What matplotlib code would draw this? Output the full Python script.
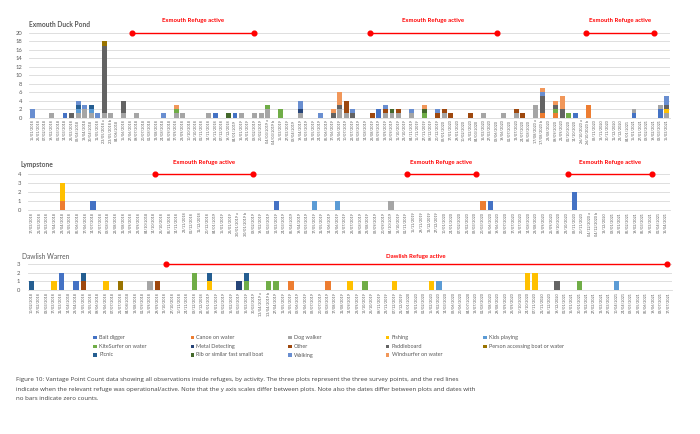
import matplotlib
matplotlib.use("Agg")
import matplotlib.pyplot as plt
import numpy as np

plt.rcParams['font.family'] = ['Lato', 'DejaVu Sans']

activities = ["Bait digger", "Canoe on water", "Dog walker", "Fishing", "Kids playing",
              "KiteSurfer on water", "Metal Detecting", "Other", "Paddleboard",
              "Person accessing boat or water", "Picnic", "Rib or similar fast small boat",
              "Walking", "Windsurfer on water"]
colors = ["#4472C4", "#ED7D31", "#A5A5A5", "#FFC000", "#5B9BD5", "#70AD47", "#264478",
          "#9E480E", "#636363", "#997300", "#255E91", "#43682B", "#698ED0", "#F1975A"]

# ---------------- Exmouth Duck Pond ----------------
duck_dates = [
    "15/01/2018", "26/01/2018", "07/02/2018", "19/02/2018", "02/03/2018", "14/03/2018", "26/03/2018", "06/04/2018", "18/04/2018", "30/04/2018",
    "11/05/2018", "23/05/2018 a", "23/05/2018 b", "04/06/2018", "15/06/2018", "27/06/2018", "09/07/2018", "20/07/2018", "01/08/2018", "13/08/2018",
    "24/08/2018", "05/09/2018", "17/09/2018", "28/09/2018", "10/10/2018", "22/10/2018", "02/11/2018", "14/11/2018", "26/11/2018", "07/12/2018",
    "19/12/2018", "04/01/2019", "16/01/2019", "28/01/2019", "08/02/2019", "20/02/2019", "04/03/2019 a", "04/03/2019 b", "15/03/2019", "27/03/2019",
    "08/04/2019", "19/04/2019", "01/05/2019", "13/05/2019", "24/05/2019", "05/06/2019", "17/06/2019", "28/06/2019", "10/07/2019", "22/07/2019",
    "02/08/2019", "14/08/2019", "26/08/2019", "06/09/2019", "18/09/2019", "30/09/2019", "11/10/2019", "23/10/2019", "04/11/2019", "15/11/2019",
    "27/11/2019", "09/12/2019", "20/12/2019", "06/01/2020", "17/01/2020", "29/01/2020", "10/02/2020", "21/02/2020", "04/03/2020", "16/03/2020",
    "27/03/2020", "08/06/2020", "19/06/2020", "01/07/2020", "13/07/2020", "24/07/2020", "05/08/2020", "17/08/2020 a", "17/08/2020 b", "28/08/2020",
    "09/09/2020", "21/09/2020", "02/10/2020", "14/10/2020", "26/10/2020 a", "26/10/2020 b", "06/11/2020", "18/11/2020", "30/11/2020", "11/12/2020",
    "23/12/2020", "04/01/2021", "15/01/2021", "27/01/2021", "08/02/2021", "19/02/2021", "03/03/2021", "15/03/2021",
]
duck_counts = {
    "Bait digger": {5: 1, 28: 1, 31: 1, 53: 2, 83: 1, 92: 1, 96: 2},
    "Canoe on water": {78: 1, 80: 1, 85: 3},
    "Dog walker": {3: 1, 7: 1, 8: 2, 9: 1, 11: 1, 12: 1, 14: 1, 16: 1, 22: 1, 23: 1, 27: 1, 32: 1,
                   34: 1, 35: 1, 36: 2, 41: 1, 47: 2, 48: 1, 54: 1, 55: 1, 56: 1, 58: 1, 63: 1,
                   69: 1, 72: 1, 74: 1, 77: 3, 92: 1, 96: 1, 97: 1},
    "Fishing": {97: 1},
    "Kids playing": {7: 1, 9: 1},
    "KiteSurfer on water": {22: 1, 36: 1, 38: 2, 60: 1, 80: 1, 82: 1},
    "Metal Detecting": {41: 1},
    "Other": {48: 3, 52: 1, 54: 1, 56: 1, 62: 1, 63: 1, 64: 1, 67: 1, 74: 1, 75: 1},
    "Paddleboard": {6: 1, 11: 16, 14: 3, 46: 1, 47: 1, 49: 1, 78: 4, 80: 1, 81: 2, 97: 1},
    "Person accessing boat or water": {11: 1},
    "Picnic": {7: 1, 9: 1},
    "Rib or similar fast small boat": {30: 1, 55: 1, 60: 1},
    "Walking": {0: 2, 7: 1, 8: 1, 10: 1, 20: 1, 41: 2, 44: 1, 49: 1, 54: 1, 58: 1, 62: 1, 78: 1, 97: 2},
    "Windsurfer on water": {22: 1, 46: 1, 47: 3, 60: 1, 78: 1, 80: 1, 81: 3},
}
duck_refuge = [(15.3, 33.9), (51.7, 71.0), (84.7, 95.0)]

# ---------------- Lympstone ----------------
lymp_dates = [
    "17/03/2018", "21/03/2018", "25/03/2018", "18/04/2018", "23/04/2018", "25/05/2018", "05/06/2018", "17/06/2018", "14/07/2018", "27/07/2018",
    "08/08/2018", "22/08/2018", "31/08/2018", "12/09/2018", "23/09/2018", "04/10/2018", "14/10/2018", "26/10/2018", "05/11/2018", "14/11/2018",
    "23/11/2018", "02/12/2018", "11/12/2018", "20/12/2018", "04/01/2019", "15/01/2019", "26/01/2019", "30/01/2019 a", "30/01/2019 b", "08/02/2019",
    "19/02/2019", "01/03/2019", "12/03/2019", "24/03/2019", "05/04/2019", "19/04/2019", "02/05/2019", "17/05/2019", "31/05/2019", "14/06/2019",
    "28/06/2019", "12/07/2019", "26/07/2019", "09/08/2019", "23/08/2019", "06/09/2019", "20/09/2019", "04/10/2019", "18/10/2019", "01/11/2019",
    "15/11/2019", "29/11/2019", "13/12/2019", "27/12/2019", "10/01/2020", "24/01/2020", "07/02/2020", "21/02/2020", "06/03/2020", "20/03/2020",
    "05/06/2020", "19/06/2020", "03/07/2020", "17/07/2020", "31/07/2020", "14/08/2020", "28/08/2020", "11/09/2020", "25/09/2020", "09/10/2020",
    "23/10/2020", "06/11/2020", "20/11/2020", "04/12/2020 a", "04/12/2020 b", "18/12/2020", "08/01/2021", "22/01/2021", "05/02/2021", "19/02/2021",
    "05/03/2021", "19/03/2021", "02/04/2021", "16/04/2021",
]
lymp_counts = {
    "Bait digger": {8: 1, 32: 1, 60: 1, 71: 2},
    "Canoe on water": {4: 1, 59: 1},
    "Dog walker": {47: 1},
    "Fishing": {4: 2},
    "Kids playing": {37: 1, 40: 1},
}
lymp_refuge = [(16.1, 29.0), (49.1, 58.1), (70.1, 81.2)]

# ---------------- Dawlish Warren ----------------
daw_dates = [
    "10/02/2018", "17/02/2018", "03/03/2018", "17/03/2018", "31/03/2018", "14/04/2018", "28/04/2018", "12/05/2018", "26/05/2018", "09/06/2018",
    "23/06/2018", "07/07/2018", "21/07/2018", "04/08/2018", "18/08/2018", "01/09/2018", "15/09/2018", "29/09/2018", "13/10/2018", "27/10/2018",
    "10/11/2018", "24/11/2018", "08/12/2018", "22/12/2018", "05/01/2019", "19/01/2019", "02/02/2019", "16/02/2019", "02/03/2019", "16/03/2019",
    "30/03/2019", "13/04/2019 a", "13/04/2019 b", "27/04/2019", "11/05/2019", "25/05/2019", "08/06/2019", "22/06/2019", "06/07/2019", "20/07/2019",
    "03/08/2019", "17/08/2019", "31/08/2019", "14/09/2019", "28/09/2019", "12/10/2019", "26/10/2019", "09/11/2019", "23/11/2019", "07/12/2019",
    "21/12/2019", "04/01/2020", "18/01/2020", "01/02/2020", "15/02/2020", "29/02/2020", "14/03/2020", "06/06/2020", "20/06/2020", "04/07/2020",
    "18/07/2020", "01/08/2020", "15/08/2020", "29/08/2020", "12/09/2020", "26/09/2020", "10/10/2020", "24/10/2020", "07/11/2020", "21/11/2020",
    "05/12/2020", "19/12/2020", "02/01/2021", "16/01/2021", "30/01/2021", "13/02/2021", "27/02/2021", "13/03/2021", "27/03/2021", "10/04/2021",
    "24/04/2021", "08/05/2021", "22/05/2021", "05/06/2021", "19/06/2021", "03/07/2021", "17/07/2021",
]
daw_counts = {
    "Bait digger": {4: 2, 6: 1},
    "Canoe on water": {35: 1, 40: 1},
    "Dog walker": {16: 1},
    "Fishing": {3: 1, 10: 1, 24: 1, 43: 1, 49: 1, 54: 1, 67: 2, 68: 2},
    "Kids playing": {55: 1, 79: 1},
    "KiteSurfer on water": {22: 2, 29: 1, 32: 1, 33: 1, 45: 1, 74: 1},
    "Metal Detecting": {28: 1},
    "Other": {7: 1, 17: 1},
    "Paddleboard": {71: 1},
    "Person accessing boat or water": {12: 1},
    "Picnic": {0: 1, 7: 1, 24: 1, 29: 1},
}
daw_refuge = [(18.1, 85.8)]

caption_lines = [
    "Figure 10: Vantage Point Count data showing all observations inside refuges, by activity. The three plots represent the three survey points, and the red lines",
    "indicate when the relevant refuge was operational/active. Note that the y axis scales differ between plots. Note also the dates differ between plots and dates with",
    "no bars indicate zero counts.",
]

TXT = "#595959"
GRID = "#D9D9D9"
W, H = 700, 434

fig = plt.figure(figsize=(7, 4.34), dpi=100)


def px_axes(x0, x1, ytop, ybot):
    return fig.add_axes([x0 / W, 1 - ybot / H, (x1 - x0) / W, (ybot - ytop) / H])


def draw(ax, dates, counts, ymax, ystep, refuge, label, label_off, ypad):
    n = len(dates)
    x = np.arange(n)
    bottom = np.zeros(n)
    for act, col in zip(activities, colors):
        vals = np.zeros(n)
        for i, v in counts.get(act, {}).items():
            vals[i] = v
        if vals.any():
            ax.bar(x, vals, 0.75, bottom=bottom, color=col, linewidth=0, zorder=3)
        bottom += vals
    ax.set_xlim(-0.5, n - 0.5)
    ax.set_ylim(0, ymax)
    ax.set_yticks(np.arange(0, ymax + 0.01, ystep))
    ax.yaxis.grid(True, color=GRID, lw=0.6, zorder=0)
    ax.set_axisbelow(True)
    ax.set_xticks(x)
    ax.set_xticklabels(dates, rotation=90, fontsize=2.7, color=TXT)
    for s in ["top", "right", "left"]:
        ax.spines[s].set_visible(False)
    ax.spines["bottom"].set_color(GRID)
    ax.spines["bottom"].set_linewidth(0.6)
    ax.tick_params(axis="x", length=0, pad=1.5)
    ax.tick_params(axis="y", length=0, labelsize=4.2, labelcolor=TXT, pad=ypad)
    for a, b in refuge:
        ax.plot([a, b], [ymax, ymax], color="#FF0000", lw=1.0, marker="o", ms=3.4,
                clip_on=False, zorder=6)
        ax.annotate(label, xy=((a + b) / 2, ymax), xytext=(0, label_off),
                    textcoords="offset points", ha="center", va="center",
                    color="#FF0000", fontsize=4.3, fontweight="bold",
                    annotation_clip=False)


ax1 = px_axes(29, 670, 33, 117.5)
draw(ax1, duck_dates, duck_counts, 20, 2, duck_refuge, "Exmouth Refuge active", 9.3, 5)
ax2 = px_axes(28, 670, 174, 209.7)
draw(ax2, lymp_dates, lymp_counts, 4, 1, lymp_refuge, "Exmouth Refuge active", 8.1, 5)
ax3 = px_axes(28, 672, 264, 290)
draw(ax3, daw_dates, daw_counts, 3, 1, daw_refuge, "Dawlish Refuge active", 5.3, 5.5)

fig.text(29 / W, 1 - 24.5 / H, "Exmouth Duck Pond", fontsize=4.8, fontweight="bold",
         color=TXT, ha="left", va="center")
fig.text(20.5 / W, 1 - 164.7 / H, "Lympstone", fontsize=4.8, fontweight="bold",
         color=TXT, ha="left", va="center")
fig.text(22.5 / W, 1 - 256.7 / H, "Dawlish Warren", fontsize=4.8,
         color=TXT, ha="left", va="center")

# legend, laid out row by row in 5 columns
col_x = [95, 192.5, 290, 387.5, 485]
row_y = [337.5, 346.2, 355]
for k, (act, col) in enumerate(zip(activities, colors)):
    r, c = divmod(k, 5)
    fig.patches.append(plt.Rectangle(((col_x[c] - 1.6) / W, 1 - (row_y[r] + 1.6) / H),
                                     3.2 / W, 3.2 / H, transform=fig.transFigure,
                                     facecolor=col, edgecolor="none"))
    fig.text((col_x[c] + 4) / W, 1 - row_y[r] / H, act, fontsize=4.0, color=TXT,
             ha="left", va="center")

for j, line in enumerate(caption_lines):
    fig.text(16 / W, 1 - (380 + 9.2 * j) / H, line, fontsize=4.45, color="#404040",
             ha="left", va="center", family=["Open Sans", "DejaVu Sans"])

fig.savefig("out.png", dpi=100)
